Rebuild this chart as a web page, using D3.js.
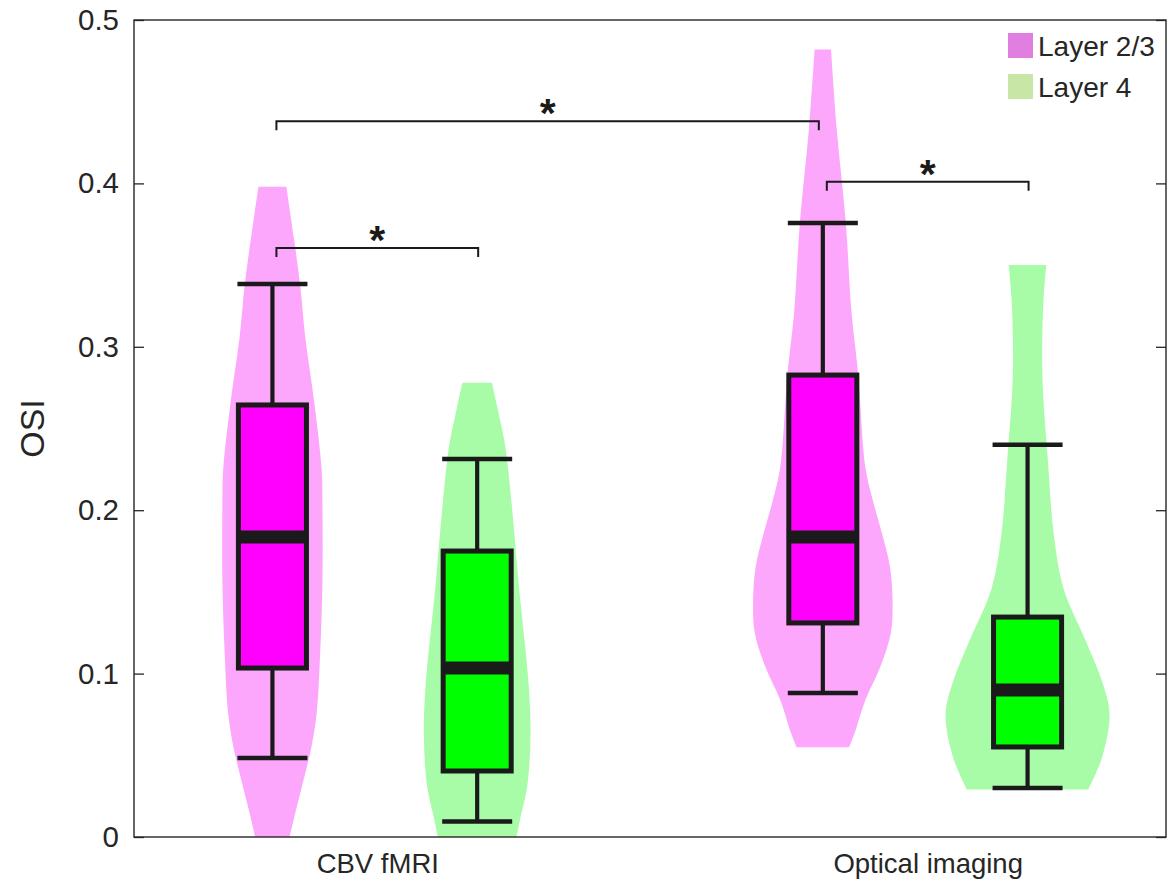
<!DOCTYPE html>
<html>
<head>
<meta charset="utf-8">
<script src="https://cdn.jsdelivr.net/npm/d3@7"></script>
<style>
  html, body { margin: 0; padding: 0; background: #ffffff; }
  svg { display: block; font-family: "Liberation Sans", Arial, Helvetica, sans-serif; }
</style>
</head>
<body>
<svg id="chart" width="1172" height="880"></svg>
<script>
// ---------- data ----------
const groups = ["CBV fMRI", "Optical imaging"];
const layers = ["Layer 2/3", "Layer 4"];
const yTicks = [0, 0.1, 0.2, 0.3, 0.4, 0.5];
const yTickLabels = ["0", "0.1", "0.2", "0.3", "0.4", "0.5"];
const yLabel = "OSI";

// order of series: CBV L2/3, CBV L4, Optical L2/3, Optical L4
const seriesGroup = [0, 0, 1, 1];
const seriesLayer = [0, 1, 0, 1];
const whiskerLow  = [0.0483, 0.0095, 0.0881, 0.0300];
const quart1      = [0.1034, 0.0404, 0.1310, 0.0551];
const medians     = [0.1836, 0.1034, 0.1836, 0.0900];
const quart3      = [0.2644, 0.1750, 0.2827, 0.1346];
const whiskerHigh = [0.3384, 0.2313, 0.3758, 0.2400];

// violin density profiles: [value, relative density]
const violinCBV_L23 = [[0.398,0.17],[0.367,0.26],[0.337,0.34],[0.306,0.40],[0.266,0.51],[0.225,0.60],[0.204,0.61],[0.157,0.61],[0.116,0.585],[0.076,0.54],[0.055,0.475],[0.035,0.38],[0.015,0.28],[0,0.21]];
const violinCBV_L4  = [[0.278,0.18],[0.262,0.25],[0.240,0.34],[0.204,0.42],[0.153,0.51],[0.092,0.63],[0.061,0.65],[0.031,0.61],[0.010,0.52],[0,0.48]];
const violinOpt_L23 = [[0.482,0.10],[0.433,0.17],[0.376,0.28],[0.321,0.35],[0.284,0.43],[0.226,0.52],[0.206,0.61],[0.186,0.72],[0.165,0.82],[0.145,0.85],[0.125,0.83],[0.104,0.70],[0.084,0.52],[0.064,0.39],[0.055,0.32]];
const violinOpt_L4  = [[0.350,0.23],[0.329,0.195],[0.283,0.18],[0.229,0.25],[0.185,0.32],[0.152,0.44],[0.120,0.71],[0.095,0.91],[0.075,1.0],[0.049,0.91],[0.029,0.74]];
const violins = [violinCBV_L23, violinCBV_L4, violinOpt_L23, violinOpt_L4];

// significance brackets: [from series, to series, level]
const sigFrom  = [0, 0, 2];
const sigTo    = [2, 1, 3];
const sigLevel = [0.438, 0.3605, 0.401];
const sigText  = ["*", "*", "*"];

// ---------- layout / style ----------
const plot = { left: 134, right: 1166, top: 20, bottom: 837 };
const violinFill = ["#fca6fc", "#a8fca8"];
const boxFill = ["#ff00ff", "#00ff00"];
const legendFill = ["#e07fe0", "#c8e6a6"];
const ink = "#1a1a1a";
const axisColor = "#262626";
const layerOffset = 0.186;

const svg = d3.select("#chart");

const x = d3.scaleLinear().domain([0.5625, 2.4375]).range([plot.left, plot.right]);
const y = d3.scaleLinear().domain([0, 0.5]).range([plot.bottom, plot.top]);
const w = d3.scaleLinear().domain([0, 1]).range([0, 82]);

const seriesX = seriesGroup.map((g, i) => (g + 1) + (seriesLayer[i] === 0 ? -layerOffset : layerOffset));
const boxHalf = 0.0618;  // half box width in x units
const capHalf = 0.0636;

// ---------- violins ----------
const area = d3.area()
  .y(d => y(d[0]))
  .curve(d3.curveCatmullRom.alpha(0.5));

violins.forEach((v, i) => {
  const cx = x(seriesX[i]);
  area.x0(d => cx - w(d[1])).x1(d => cx + w(d[1]));
  svg.append("path")
    .attr("d", area(v))
    .attr("fill", violinFill[seriesLayer[i]])
    .attr("stroke", "none");
});

// ---------- box plots ----------
seriesX.forEach((sx, i) => {
  const g = svg.append("g");
  const cx = x(sx);
  g.append("line")
    .attr("x1", cx).attr("x2", cx)
    .attr("y1", y(whiskerLow[i])).attr("y2", y(whiskerHigh[i]))
    .attr("stroke", ink).attr("stroke-width", 4.2);
  [whiskerLow[i], whiskerHigh[i]].forEach(v => {
    g.append("line")
      .attr("x1", x(sx - capHalf)).attr("x2", x(sx + capHalf))
      .attr("y1", y(v)).attr("y2", y(v))
      .attr("stroke", ink).attr("stroke-width", 4.5);
  });
  g.append("rect")
    .attr("x", x(sx - boxHalf))
    .attr("width", x(sx + boxHalf) - x(sx - boxHalf))
    .attr("y", y(quart3[i]))
    .attr("height", y(quart1[i]) - y(quart3[i]))
    .attr("fill", boxFill[seriesLayer[i]])
    .attr("stroke", ink).attr("stroke-width", 5);
  g.append("line")
    .attr("x1", x(sx - boxHalf)).attr("x2", x(sx + boxHalf))
    .attr("y1", y(medians[i])).attr("y2", y(medians[i]))
    .attr("stroke", ink).attr("stroke-width", 13);
});

// ---------- significance brackets ----------
sigFrom.forEach((f, k) => {
  const x1 = x(seriesX[f]) + 4;
  const x2 = x(seriesX[sigTo[k]]) + (k === 0 ? -4 : 1);
  const by = y(sigLevel[k]);
  svg.append("path")
    .attr("d", `M${x1},${by + 9}V${by}H${x2}V${by + 9}`)
    .attr("fill", "none").attr("stroke", ink).attr("stroke-width", 2);
  svg.append("text")
    .attr("x", (x1 + x2) / 2).attr("y", by + 6)
    .attr("text-anchor", "middle")
    .attr("font-size", 41).attr("font-weight", "bold")
    .attr("fill", ink)
    .text(sigText[k]);
});

// ---------- axes ----------
const yAxisL = d3.axisLeft(y).tickValues(yTicks).tickSize(-10).tickSizeOuter(0)
  .tickFormat((d, i) => yTickLabels[i]).tickPadding(15);
const yAxisR = d3.axisRight(y).tickValues(yTicks).tickSize(-10).tickSizeOuter(0).tickFormat("");

const gl = svg.append("g").attr("transform", `translate(${plot.left},0)`).call(yAxisL);
gl.selectAll("text").attr("font-size", 29.5).attr("fill", axisColor)
  .attr("font-family", "'Liberation Sans', Arial, sans-serif");
const gr = svg.append("g").attr("transform", `translate(${plot.right},0)`).call(yAxisR);
[gl, gr].forEach(g => {
  g.select(".domain").remove();
  g.selectAll(".tick line").attr("stroke", axisColor).attr("stroke-width", 1.3);
});

// frame
svg.append("rect")
  .attr("x", plot.left).attr("y", plot.top)
  .attr("width", plot.right - plot.left).attr("height", plot.bottom - plot.top)
  .attr("fill", "none").attr("stroke", axisColor).attr("stroke-width", 1.4);

// x category labels
groups.forEach((gname, gi) => {
  svg.append("text")
    .attr("x", x(gi + 1) + 3).attr("y", 873)
    .attr("text-anchor", "middle")
    .attr("font-size", 27.5).attr("fill", axisColor)
    .text(gname);
});

// y label
svg.append("text")
  .attr("transform", `translate(44,${(plot.top + plot.bottom) / 2}) rotate(-90)`)
  .attr("text-anchor", "middle")
  .attr("font-size", 34).attr("fill", axisColor)
  .text(yLabel);

// legend
layers.forEach((name, li) => {
  const ly = 33 + li * 41;
  svg.append("rect")
    .attr("x", 1008).attr("y", ly).attr("width", 25).attr("height", 25)
    .attr("fill", legendFill[li]);
  svg.append("text")
    .attr("x", 1038).attr("y", ly + 23)
    .attr("font-size", 28).attr("fill", axisColor)
    .text(name);
});
</script>
</body>
</html>
